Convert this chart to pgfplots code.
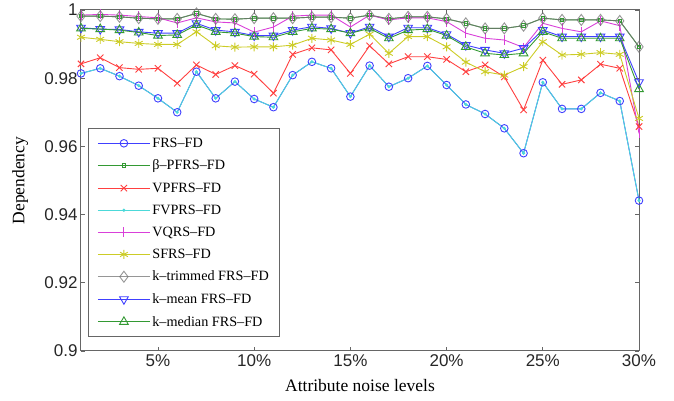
\documentclass[border=0pt]{standalone}
\usepackage{pgfplots}
\pgfplotsset{compat=1.18}
\usepackage{pgfplotstable}
\usepackage{fontspec}
\setmainfont{Liberation Serif}
\newfontfamily\ticksans{Liberation Sans}

\definecolor{cblue}{rgb}{0.25,0.25,1}
\definecolor{cgreen}{rgb}{0.2,0.6,0.2}
\definecolor{cred}{rgb}{1,0.25,0.25}
\definecolor{ccyan}{rgb}{0.3,0.85,0.85}
\definecolor{cmag}{rgb}{0.85,0.25,0.85}
\definecolor{cyel}{rgb}{0.8,0.8,0.15}
\definecolor{cgray}{rgb}{0.45,0.45,0.45}
\definecolor{axgray}{rgb}{0.4,0.4,0.4}

% x = noise level (%), columns
\pgfplotstableread{
x  frs    vpfrs  sfrs   vqrs   ktrim  kmean  kmed
1  0.9814 0.9842 0.9920 0.9985 0.9982 0.9948 0.9946
2  0.9829 0.9860 0.9914 0.9987 0.9982 0.9944 0.9944
3  0.9806 0.9831 0.9907 0.9985 0.9980 0.9943 0.9941
4  0.9778 0.9826 0.9902 0.9981 0.9976 0.9936 0.9934
5  0.9741 0.9829 0.9899 0.9977 0.9974 0.9932 0.9925
6  0.9700 0.9785 0.9899 0.9962 0.9974 0.9932 0.9927
7  0.9819 0.9839 0.9936 0.9977 0.9990 0.9961 0.9956
8  0.9741 0.9811 0.9895 0.9965 0.9974 0.9941 0.9936
9  0.9790 0.9837 0.9891 0.9962 0.9973 0.9936 0.9932
10 0.9739 0.9812 0.9892 0.9935 0.9976 0.9925 0.9922
11 0.9715 0.9756 0.9892 0.9950 0.9976 0.9925 0.9920
12 0.9809 0.9870 0.9897 0.9982 0.9976 0.9941 0.9936
13 0.9848 0.9889 0.9917 0.9985 0.9979 0.9951 0.9946
14 0.9829 0.9883 0.9912 0.9985 0.9979 0.9946 0.9944
15 0.9746 0.9814 0.9899 0.9950 0.9976 0.9932 0.9932
16 0.9837 0.9895 0.9929 0.9985 0.9985 0.9951 0.9946
17 0.9775 0.9842 0.9873 0.9971 0.9974 0.9922 0.9917
18 0.9800 0.9863 0.9922 0.9977 0.9980 0.9948 0.9941
19 0.9836 0.9863 0.9922 0.9977 0.9980 0.9948 0.9944
20 0.9780 0.9855 0.9892 0.9966 0.9974 0.9929 0.9925
21 0.9723 0.9819 0.9847 0.9932 0.9961 0.9897 0.9892
22 0.9695 0.9839 0.9819 0.9917 0.9946 0.9883 0.9873
23 0.9653 0.9804 0.9809 0.9912 0.9946 0.9873 0.9868
24 0.9580 0.9707 0.9834 0.9890 0.9954 0.9888 0.9873
25 0.9788 0.9853 0.9907 0.9961 0.9976 0.9941 0.9936
26 0.9710 0.9782 0.9868 0.9946 0.9971 0.9922 0.9917
27 0.9710 0.9795 0.9870 0.9936 0.9971 0.9922 0.9917
28 0.9757 0.9841 0.9875 0.9968 0.9971 0.9922 0.9917
29 0.9733 0.9829 0.9870 0.9954 0.9968 0.9922 0.9917
30 0.9441 0.9658 0.9682 0.9638 0.9892 0.9788 0.9768
}\noise

\begin{document}
\begin{tikzpicture}
\path[use as bounding box] (-81pt,-50pt) rectangle (593pt,351pt);
\begin{axis}[
  at={(0,0)}, anchor=origin,
  scale only axis,
  width=558pt, height=341pt,
  xmin=1, xmax=30, ymin=0.9, ymax=1,
  xtick={5,10,15,20,25,30},
  xticklabels={5\%,10\%,15\%,20\%,25\%,30\%},
  ytick={0.9,0.92,0.94,0.96,0.98,1},
  yticklabels={0.9,0.92,0.94,0.96,0.98,1},
  tick label style={font=\ticksans\fontsize{17}{17}\selectfont, text=black!85},
  tick align=inside,
  major tick length=4pt,
  tick style={axgray, line width=0.8pt},
  axis line style={axgray, line width=1pt},
  xlabel={Attribute noise levels},
  ylabel={Dependency},
  label style={font=\fontsize{17.5}{17.5}\selectfont},
  xlabel style={at={(axis description cs:0.5,-0.1)}, anchor=center},
  ylabel style={at={(axis description cs:-0.109,0.5)}, anchor=center},
  every axis plot/.append style={line width=0.9pt},
  legend style={
    at={(axis description cs:0.0125,0.041)}, anchor=south west,
    draw=axgray, line width=1pt,
    font=\fontsize{14.2}{14.2}\selectfont,
    row sep=7.2pt, inner xsep=9pt, inner ysep=7pt,
  },
  legend cell align=left,
  legend image code/.code={
    \draw[mark repeat=2, mark phase=2] plot coordinates {(0pt,0pt) (26pt,0pt) (52pt,0pt)};
  },
]
\addplot[cblue, mark=o, mark size=3.8pt, mark options={solid}] table[x=x, y=frs] {\noise};
\addlegendentry{FRS--FD}
\addplot[cgreen, mark=square, mark size=1.8pt] table[x=x, y=ktrim] {\noise};
\addlegendentry{β--PFRS--FD}
\addplot[cred, mark=x, mark size=4.5pt] table[x=x, y=vpfrs] {\noise};
\addlegendentry{VPFRS--FD}
\addplot[ccyan, mark=*, mark size=1.1pt] table[x=x, y=frs] {\noise};
\addlegendentry{FVPRS--FD}
\addplot[cmag, mark=|, mark size=5pt] table[x=x, y=vqrs] {\noise};
\addlegendentry{VQRS--FD}
\addplot[cyel, mark=asterisk, mark size=4.5pt] table[x=x, y=sfrs] {\noise};
\addlegendentry{SFRS--FD}
\addplot[cgray, opacity=0.75, mark=diamond, mark size=5.5pt] table[x=x, y=ktrim] {\noise};
\addlegendentry{k--trimmed FRS--FD}
\addplot[cblue, mark=triangle, mark size=5pt, mark options={rotate=180}] table[x=x, y=kmean] {\noise};
\addlegendentry{k--mean FRS--FD}
\addplot[cgreen, mark=triangle, mark size=5pt] table[x=x, y=kmed] {\noise};
\addlegendentry{k--median FRS--FD}
\end{axis}
\end{tikzpicture}
\end{document}
